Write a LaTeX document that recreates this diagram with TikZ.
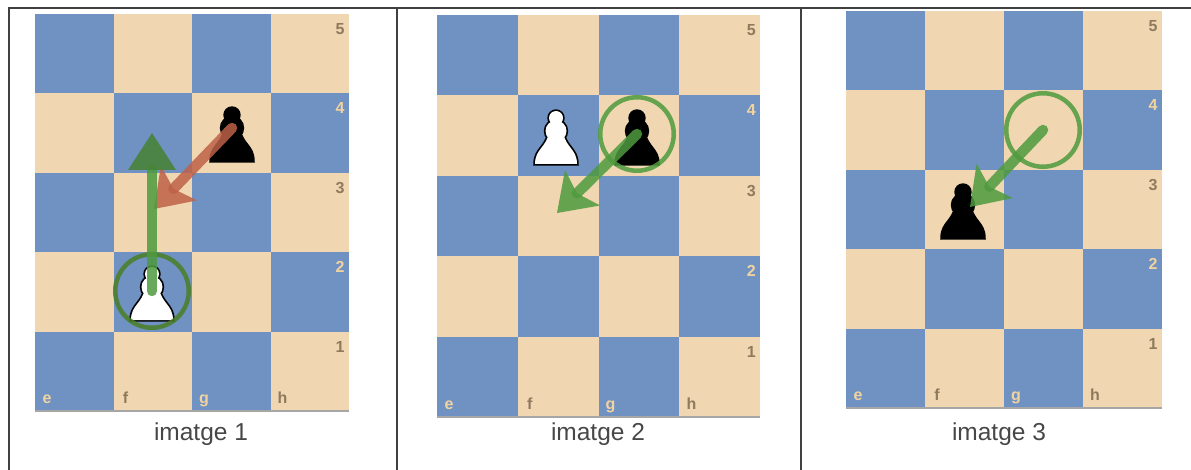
\documentclass[tikz,border=0pt]{standalone}
\usepackage{fontspec}
\usepackage{xcolor}
\setmainfont{Liberation Sans}
\usetikzlibrary{arrows.meta, positioning, calc}

\definecolor{boardblue}{HTML}{6F92C2}
\definecolor{boardtan}{HTML}{F0D7B1}
\definecolor{labeldark}{HTML}{8F7A5E}
\definecolor{labellight}{HTML}{F2D3A0}
\definecolor{markgreen}{HTML}{4F9A3F}
\definecolor{headgreen}{HTML}{468232}
\definecolor{ringdark}{HTML}{4A7F25}
\definecolor{markbrown}{HTML}{BE6148}

\tikzset{
    darklab/.style={text=labeldark, font=\fontsize{16}{16}\selectfont\bfseries, inner sep=0pt},
    lightlab/.style={text=labellight, font=\fontsize{16}{16}\selectfont\bfseries, inner sep=0pt},
    caption/.style={text=black!72, font=\fontsize{24.5}{24.5}\selectfont, inner sep=0pt, anchor=base},
    ringmark/.style={circle, draw=#1, line width=4.5pt, minimum size=73.5pt, inner sep=0pt, opacity=0.85},
    movearrow/.style={draw=#1, line width=10.5pt, line cap=round, opacity=0.85,
        -{Stealth[length=36pt, width=50pt, inset=8pt, color=#1, line width=0pt]}},
    pawnshape/.style={insert path={
            (0,-46) circle (7)
            (0,-33) circle (10.5)
            (-21,0) .. controls (-21,-8) and (-18,-12) .. (-14,-17)
            .. controls (-11,-21) and (-9,-24) .. (-8,-28) -- (8,-28)
            .. controls (9,-24) and (11,-21) .. (14,-17)
            .. controls (18,-12) and (21,-8) .. (21,0) -- cycle}},
    pawn/.pic={
        \path[draw=black, fill=black, line width=3.4pt, pawnshape];
        \fill[#1, pawnshape];
    }
}

% #1 origen, #2 ample de casella, #3 alt de casella, #4 prefix dels noms
\newcommand{\chessgrid}[4]{
    \begin{scope}[shift={#1}]
        \foreach \c in {0,...,3} {
            \foreach \r in {0,...,4} {
                \pgfmathsetmacro{\parity}{int(mod(\c+\r,2))}
                \ifnum\parity=0
                    \fill[boardblue] ({\c*#2},{\r*#3}) rectangle ++(#2,#3);
                \else
                    \fill[boardtan] ({\c*#2},{\r*#3}) rectangle ++(#2,#3);
                \fi
            }
        }
        % vora inferior
        \draw[black!35, line width=1.2pt] (0,{5*#3}) -- ({4*#2},{5*#3});
        \foreach \r/\txt/\sty in {0/5/darklab, 1/4/lightlab, 2/3/darklab, 3/2/lightlab, 4/1/darklab} {
            \node[\sty] (#4rank\txt) at ({4*#2-9},{\r*#3+15}) {\txt};
        }
        \foreach \c/\txt/\sty in {0/e/lightlab, 1/f/darklab, 2/g/lightlab, 3/h/darklab} {
            \node[\sty, anchor=base] (#4file\txt) at ({\c*#2+12},{5*#3-8}) {\txt};
        }
    \end{scope}
}

\begin{document}
\begin{tikzpicture}[x=1pt, y=-1pt]
    \useasboundingbox (0,0) rectangle (1191,470);

    % marc de la taula
    \draw[black!75, line width=1.2pt] (1191,8) -- (9,8) -- (9,470);
    \draw[black!75, line width=1.2pt] (397,8) -- (397,470);
    \draw[black!75, line width=1.2pt] (801,8) -- (801,470);

    % imatge 1
    \chessgrid{(35,14)}{78.5}{79.4}{a}
    \pic (blackA) at (232,161) {pawn=black};
    \pic (whiteA) at (152,320) {pawn=white};
    \node[ringmark=ringdark] (ringA) at (152,291) {};
    \coordinate (startB) at (232,128);
    \coordinate (tipB) at (154,209);
    \coordinate (tipA) at (152,133);
    \draw[movearrow=markbrown] (startB) -- (tipB);
    \draw[movearrow=markgreen, -{Triangle[length=37pt, width=48pt, color=headgreen, line width=0pt]}] (ringA.center) -- (tipA);
    \node[caption] (capA) at (201,440) {imatge 1};

    % imatge 2
    \chessgrid{(437,15)}{80.8}{80.4}{b}
    \pic (whiteC) at (556,164) {pawn=white};
    \pic (blackC) at (637,164) {pawn=black};
    \node[ringmark=markgreen] (ringC) at (637,134) {};
    \coordinate (tipC) at (557,213);
    \draw[movearrow=markgreen] (ringC.center) -- (tipC);
    \node[caption] (capB) at (598,440) {imatge 2};

    % imatge 3
    \chessgrid{(846,11)}{79}{79.4}{c}
    \pic (blackD) at (963,238) {pawn=black};
    \node[ringmark=markgreen] (ringD) at (1043,130) {};
    \coordinate (tipD) at (970,207);
    \draw[movearrow=markgreen] (ringD.center) -- (tipD);
    \node[caption] (capC) at (999,440) {imatge 3};
\end{tikzpicture}
\end{document}
